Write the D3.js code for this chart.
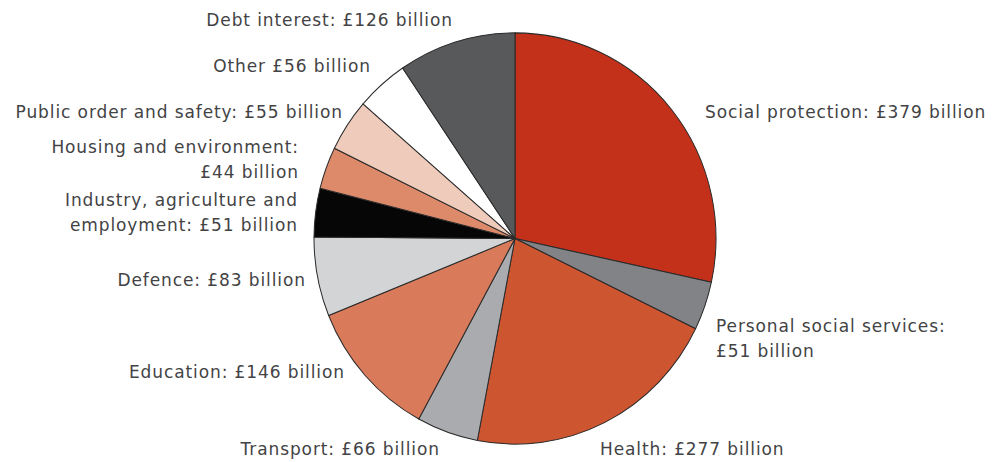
<!DOCTYPE html>
<html>
<head>
<meta charset="utf-8">
<script src="https://cdn.jsdelivr.net/npm/d3@7"></script>
<style>
  html, body { margin: 0; padding: 0; background: #fff; }
  svg { display: block; }
  .label { font-family: "DejaVu Sans", sans-serif; font-size: 17px; letter-spacing: 0.9px; fill: #434345; }
</style>
</head>
<body>
<svg id="chart" width="992" height="462"></svg>
<script>
// Public spending by function, £ billion (clockwise from 12 o'clock)
const categories = [
  "Social protection",
  "Personal social services",
  "Health",
  "Transport",
  "Education",
  "Defence",
  "Industry, agriculture and employment",
  "Housing and environment",
  "Public order and safety",
  "Other",
  "Debt interest"
];
const values = [379, 51, 277, 66, 146, 83, 51, 44, 55, 56, 126];
const colors = [
  "#c4311a", "#818387", "#cd5530", "#a9abae", "#d97b5a", "#d3d4d6",
  "#060606", "#dc8a6a", "#efcbbb", "#ffffff", "#58595b"
];
// Label text lines for each slice
const labelLines = [
  ["Social protection: £379 billion"],
  ["Personal social services:", "£51 billion"],
  ["Health: £277 billion"],
  ["Transport: £66 billion"],
  ["Education: £146 billion"],
  ["Defence: £83 billion"],
  ["Industry, agriculture and", "employment: £51 billion"],
  ["Housing and environment:", "£44 billion"],
  ["Public order and safety: £55 billion"],
  ["Other £56 billion"],
  ["Debt interest: £126 billion"]
];

// Label placement: anchor point and alignment
const labelLayout = [
  { x: 705, y: 118, anchor: "start" },
  { x: 716, y: 332, anchor: "start" },
  { x: 600, y: 455, anchor: "start" },
  { x: 439, y: 455, anchor: "end" },
  { x: 344, y: 378, anchor: "end" },
  { x: 305, y: 286, anchor: "end" },
  { x: 297, y: 206, anchor: "end" },
  { x: 298, y: 153, anchor: "end" },
  { x: 342, y: 118, anchor: "end" },
  { x: 370, y: 72, anchor: "end" },
  { x: 452, y: 26, anchor: "end" }
];
const lineHeight = 24.5;

const svg = d3.select("#chart");
const cx = 515, cy = 238.5, radius = 201, yStretch = 1.023;

const data = categories.map((c, i) => ({ name: c, value: values[i], color: colors[i], lines: labelLines[i], pos: labelLayout[i] }));

const pie = d3.pie().sort(null).value(d => d.value).startAngle(0).endAngle(2 * Math.PI);
const arc = d3.arc().innerRadius(0).outerRadius(radius);

const g = svg.append("g").attr("transform", `translate(${cx},${cy}) scale(1,${yStretch})`);
g.selectAll("path.slice")
  .data(pie(data))
  .join("path")
  .attr("class", "slice")
  .attr("d", arc)
  .attr("fill", d => d.data.color)
  .attr("stroke", "#2a2a2a")
  .attr("stroke-width", 1)
  .attr("stroke-linejoin", "round");

// end-anchored text would otherwise carry trailing letter-spacing past its anchor
const labels = svg.append("g");
data.forEach(d => {
  const shift = d.pos.anchor === "end" ? 0.9 : 0;
  const t = labels.append("text")
    .attr("class", "label")
    .attr("x", d.pos.x + shift)
    .attr("y", d.pos.y)
    .attr("text-anchor", d.pos.anchor);
  d.lines.forEach((line, j) => {
    t.append("tspan")
      .attr("x", d.pos.x + shift)
      .attr("dy", j === 0 ? 0 : lineHeight)
      .text(line);
  });
});
</script>
</body>
</html>
